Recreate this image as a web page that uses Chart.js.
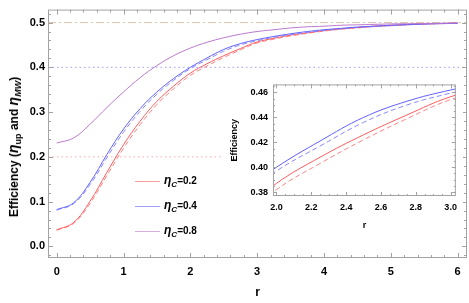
<!DOCTYPE html>
<html>
<head>
<meta charset="utf-8">
<script src="https://cdn.jsdelivr.net/npm/chart.js@4.4.0/dist/chart.umd.min.js"></script>
<style>
  body { margin: 0; background: #fff; }
  #wrap { position: relative; width: 469px; height: 303px; font-family: "Liberation Sans", Arial, sans-serif; }
  #main { position: absolute; left: 0; top: 0; }
  #inset { position: absolute; left: 221px; top: 74px; background: #fff; }
  #ytitle {
    position: absolute; left: 14px; top: 147px; white-space: nowrap;
    transform: translate(-50%, -50%) rotate(-90deg);
    font-weight: bold; font-size: 12px; color: #000;
  }
  #ytitle .eta { font-style: italic; font-size: 14px; }
  #ytitle sub { font-size: 9px; vertical-align: -3px; }
  .row { position: absolute; left: 135px; height: 20px; }
  .row .ln { position: absolute; left: 0; width: 25px; height: 1px; }
  .row .tx { position: absolute; left: 29px; top: -8px; white-space: nowrap; font-weight: bold; font-size: 10px; }
  .row .tx i { font-size: 12px; }
  .row .tx sub { font-size: 8px; vertical-align: -3px; font-style: italic; }
</style>
</head>
<body>
<div id="wrap">
  <canvas id="main" width="469" height="303"></canvas>
  <canvas id="inset" width="242" height="160"></canvas>
  <div id="ytitle">Efficiency (<span class="eta">η</span><sub>up</sub> and <span class="eta">η</span><sub><i>MW</i></sub>)</div>
  <div id="legend"></div>
</div>
<script>
// squeezing parameter r
const rValues = [0, 0.25, 0.5, 0.75, 1, 1.25, 1.5, 1.75, 2, 2.25, 2.5, 2.75, 3,
  3.25, 3.5, 3.75, 4, 4.25, 4.5, 4.75, 5, 5.25, 5.5, 5.75, 6];

// efficiencies (solid and dashed curve per eta_C)
const effSolid02 = [0.037, 0.053, 0.101, 0.165, 0.227, 0.280, 0.324, 0.358, 0.387, 0.408, 0.426, 0.442, 0.4566,
  0.465, 0.472, 0.477, 0.482, 0.486, 0.489, 0.492, 0.494, 0.4955, 0.497, 0.498, 0.499];
const effDashed02 = [0.036, 0.051, 0.096, 0.158, 0.219, 0.272, 0.317, 0.352, 0.382, 0.403, 0.422, 0.439, 0.4543,
  0.463, 0.470, 0.476, 0.481, 0.485, 0.488, 0.491, 0.493, 0.495, 0.4965, 0.4975, 0.4985];
const effSolid04 = [0.082, 0.097, 0.143, 0.205, 0.262, 0.308, 0.345, 0.375, 0.400, 0.421, 0.440, 0.453, 0.462,
  0.469, 0.475, 0.480, 0.484, 0.487, 0.490, 0.492, 0.494, 0.4955, 0.497, 0.4978, 0.4985];
const effDashed04 = [0.081, 0.095, 0.138, 0.198, 0.255, 0.302, 0.340, 0.371, 0.397, 0.417, 0.436, 0.450, 0.4595,
  0.467, 0.473, 0.478, 0.482, 0.486, 0.489, 0.491, 0.493, 0.495, 0.4965, 0.4975, 0.498];
const effSolid08 = [0.231, 0.242, 0.273, 0.310, 0.345, 0.377, 0.404, 0.426, 0.443, 0.456, 0.466, 0.474, 0.480,
  0.484, 0.488, 0.4905, 0.492, 0.494, 0.495, 0.496, 0.497, 0.4975, 0.498, 0.4985, 0.499];

// horizontal reference levels
const refLevels = [0.5, 0.4, 0.2];

// legend entries
const legendEtaC = ['0.2', '0.4', '0.8'];

// tick labels
const mainXTicks = [0, 1, 2, 3, 4, 5, 6];
const mainYTicks = [0, 0.1, 0.2, 0.3, 0.4, 0.5];
const insetXTicks = [2.0, 2.2, 2.4, 2.6, 2.8, 3.0];
const insetYTicks = [0.38, 0.40, 0.42, 0.44, 0.46];

const FONT = 'Liberation Sans, Arial, sans-serif';
const RED = '#ff5c5c', RED_D = '#ff8585';
const BLUE = '#6060ff', BLUE_D = '#8888ff';
const PURPLE = '#bb78cc';
const refStyles = [
  { color: '#dcc4ae', dash: [8, 3, 2, 3] },
  { color: '#a2a2ff', dash: [1.5, 3] },
  { color: '#ffaaaa', dash: [1.5, 3] }
];

// main axis ranges
const X_MIN = -0.13, X_MAX = 6.14, Y_MIN = -0.026, Y_MAX = 0.529;

function range(a, b, step) {
  const out = [];
  for (let v = a; v <= b + 1e-9; v += step) out.push(Math.round(v * 1e6) / 1e6);
  return out;
}

function curve(arr) {
  return rValues.map((r, i) => ({ x: r, y: arr[i] }));
}

function curveSets(withPurple) {
  const base = { pointRadius: 0, borderWidth: 1, tension: 0.4, fill: false };
  const sets = [
    { ...base, data: curve(effSolid04), borderColor: BLUE },
    { ...base, data: curve(effDashed04), borderColor: BLUE_D, borderDash: [5, 3] },
    { ...base, data: curve(effSolid02), borderColor: RED },
    { ...base, data: curve(effDashed02), borderColor: RED_D, borderDash: [5, 3] }
  ];
  if (withPurple) sets.unshift({ ...base, data: curve(effSolid08), borderColor: PURPLE });
  return sets;
}

// frame with inward ticks on all four sides (Mathematica style)
const framePlugin = {
  id: 'frame',
  afterDatasetsDraw(chart, args, o) {
    const { ctx, chartArea: a, scales: { x, y } } = chart;
    ctx.save();
    ctx.strokeStyle = '#a3a3a3';
    ctx.lineWidth = 1;
    ctx.strokeRect(a.left + 0.5, a.top + 0.5, a.right - a.left - 1, a.bottom - a.top - 1);
    ctx.beginPath();
    const xt = (vals, len) => vals.forEach(v => {
      if (v < x.min || v > x.max) return;
      const p = Math.round(x.getPixelForValue(v)) + 0.5;
      ctx.moveTo(p, a.bottom); ctx.lineTo(p, a.bottom - len);
      ctx.moveTo(p, a.top); ctx.lineTo(p, a.top + len);
    });
    const yt = (vals, len) => vals.forEach(v => {
      if (v < y.min || v > y.max) return;
      const p = Math.round(y.getPixelForValue(v)) + 0.5;
      ctx.moveTo(a.left, p); ctx.lineTo(a.left + len, p);
      ctx.moveTo(a.right, p); ctx.lineTo(a.right - len, p);
    });
    xt(o.xMajor, o.major); xt(o.xMinor, o.minor);
    yt(o.yMajor, o.major); yt(o.yMinor, o.minor);
    ctx.stroke();
    ctx.restore();
  }
};

function axis(min, max, ticks, fmt, size, pad, fitKey, fitVal, title) {
  return {
    type: 'linear', min, max,
    afterFit: s => { s[fitKey] = fitVal; },
    afterBuildTicks: s => { s.ticks = ticks.map(v => ({ value: v })); },
    grid: { display: false, drawTicks: false },
    border: { display: false },
    ticks: { padding: pad, color: '#000', autoSkip: false, maxRotation: 0,
      font: { family: FONT, size, weight: 'bold' }, callback: v => v.toFixed(fmt) },
    title: title
  };
}

// main chart
const refSets = refLevels.map((lv, i) => ({
  data: [{ x: X_MIN, y: lv }, { x: X_MAX, y: lv }],
  borderColor: refStyles[i].color, borderDash: refStyles[i].dash,
  borderWidth: 1, pointRadius: 0
}));

new Chart(document.getElementById('main'), {
  type: 'line',
  data: { datasets: [...curveSets(true), ...refSets] },
  options: {
    responsive: false, animation: false, devicePixelRatio: 1,
    layout: { padding: { top: 0, right: 2, left: 0, bottom: 0 } },
    plugins: {
      legend: { display: false }, tooltip: { enabled: false },
      frame: { xMajor: mainXTicks, xMinor: range(0, 6, 0.2), yMajor: mainYTicks,
        yMinor: range(-0.02, 0.52, 0.02), major: 5, minor: 3 }
    },
    scales: {
      x: axis(X_MIN, X_MAX, mainXTicks, 0, 11, 7, 'height', 45,
        { display: true, text: 'r', color: '#000', font: { family: FONT, size: 12, weight: 'bold' },
          padding: { top: 0, bottom: 3 } }),
      y: axis(Y_MIN, Y_MAX, mainYTicks, 1, 11, 3, 'width', 48, { display: false })
    }
  },
  plugins: [framePlugin]
});

// inset zoom on 2 <= r <= 3
new Chart(document.getElementById('inset'), {
  type: 'line',
  data: { datasets: curveSets(false) },
  options: {
    responsive: false, animation: false, devicePixelRatio: 1,
    layout: { padding: { top: 8, right: 4, left: 0, bottom: 0 } },
    plugins: {
      legend: { display: false }, tooltip: { enabled: false },
      frame: { xMajor: insetXTicks, xMinor: range(1.95, 3.05, 0.05), yMajor: insetYTicks,
        yMinor: range(0.375, 0.465, 0.005), major: 4, minor: 2 }
    },
    scales: {
      x: axis(1.98, 3.03, insetXTicks, 1, 9, 6, 'height', 38,
        { display: true, text: 'r', color: '#000', font: { family: FONT, size: 9, weight: 'bold' },
          padding: { top: 0, bottom: 3 } }),
      y: axis(0.3769, 0.4665, insetYTicks, 2, 9, 5, 'width', 52,
        { display: true, text: 'Efficiency', color: '#000', font: { family: FONT, size: 9, weight: 'bold' },
          padding: { top: 8, bottom: 0 } })
    }
  },
  plugins: [framePlugin]
});

// legend, inside the main frame
const legendColors = [RED, BLUE, PURPLE];
const legendTops = [181, 206, 231];
const legend = document.getElementById('legend');
legendEtaC.forEach((v, i) => {
  const row = document.createElement('div');
  row.className = 'row';
  row.style.top = legendTops[i] + 'px';
  row.innerHTML = '<div class="ln" style="background:' + legendColors[i] + ';opacity:0.6"></div>' +
    '<div class="tx"><i>η</i><sub>C</sub>=' + v + '</div>';
  legend.appendChild(row);
});
</script>
</body>
</html>
